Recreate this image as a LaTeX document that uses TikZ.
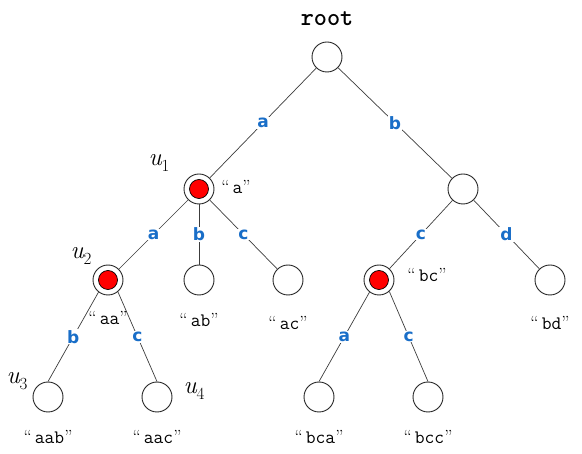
\documentclass[tikz,border=0pt]{standalone}
\usepackage{fontspec}
\newfontfamily\lblfont{DejaVu Sans}
\newcommand\qlab[1]{{\rmfamily“}\,#1{\rmfamily”}}
\newcommand\ulbl[1]{{\rmfamily\itshape u}\raisebox{-0.25em}{\fontsize{17}{17}\selectfont\rmfamily #1}}
\definecolor{lblue}{RGB}{25,110,200}
\definecolor{edgegray}{RGB}{60,60,60}
\begin{document}
\begin{tikzpicture}[x=1pt,y=-1pt,
  leaf/.style={circle, draw=black!85, line width=0.9pt, minimum size=30pt, inner sep=0pt, fill=white},
  term/.style={leaf, path picture={\filldraw[fill=red, draw=black, line width=0.7pt] (path picture bounding box.center) circle (9.5pt);}},
  edge/.style={draw=edgegray, line width=0.7pt},
  elab/.style={fill=white, inner sep=1pt, text=lblue, font=\lblfont\bfseries\fontsize{17}{17}\selectfont},
  strlab/.style={inner sep=0pt, font=\ttfamily\fontsize{19}{19}\selectfont},
  ulab/.style={inner sep=0pt, font=\fontsize{25}{25}\selectfont},
  rootlab/.style={inner sep=0pt, font=\ttfamily\bfseries\fontsize{25}{25}\selectfont}]
\useasboundingbox (0,0) rectangle (582,454);
% nodes
\node[leaf] (root) at (327,57) {};
\node[term] (u1) at (199,189) {};
\node[leaf] (nb) at (463,189) {};
\node[term] (u2) at (108,280) {};
\node[leaf] (ab) at (199,280) {};
\node[leaf] (ac) at (288,280) {};
\node[term] (bc) at (379,280) {};
\node[leaf] (bd) at (550,280) {};
\node[leaf] (u3) at (48,397) {};
\node[leaf] (aac) at (157,397) {};
\node[leaf] (bca) at (319,397) {};
\node[leaf] (bcc) at (428,397) {};
% edges
\draw[edge] (root) -- node[elab] {a} (u1);
\draw[edge] (root) -- node[elab] {b} (nb);
\draw[edge] (u1) -- node[elab] {a} (u2);
\draw[edge] (u1) -- node[elab] {b} (ab);
\draw[edge] (u1) -- node[elab] {c} (ac);
\draw[edge] (nb) -- node[elab] {c} (bc);
\draw[edge] (nb) -- node[elab] {d} (bd);
\draw[edge] (u2.232) -- node[elab] {b} (u3.north);
\draw[edge] (u2.310) -- node[elab] {c} (aac.north);
\draw[edge] (bc.232) -- node[elab] {a} (bca.north);
\draw[edge] (bc.312) -- node[elab] {c} (bcc.north);
% texts
\node[rootlab] (troot) at (327,19) {root};
\node[ulab] (tu1) at (159,163) {\ulbl{1}};
\node[ulab] (tu2) at (81,256) {\ulbl{2}};
\node[ulab] (tu3) at (17,381) {\ulbl{3}};
\node[ulab] (tu4) at (194,391) {\ulbl{4}};
\node[strlab] (sa) at (236,187) {\qlab{a}};
\node[strlab] (saa) at (108,318) {\qlab{aa}};
\node[strlab] (sab) at (199,320) {\qlab{ab}};
\node[strlab] (sac) at (288,323) {\qlab{ac}};
\node[strlab] (sbc) at (427,275) {\qlab{bc}};
\node[strlab] (sbd) at (550,323) {\qlab{bd}};
\node[strlab] (saab) at (48,437) {\qlab{aab}};
\node[strlab] (saac) at (157,437) {\qlab{aac}};
\node[strlab] (sbca) at (319,437) {\qlab{bca}};
\node[strlab] (sbcc) at (428,437) {\qlab{bcc}};
\end{tikzpicture}
\end{document}
